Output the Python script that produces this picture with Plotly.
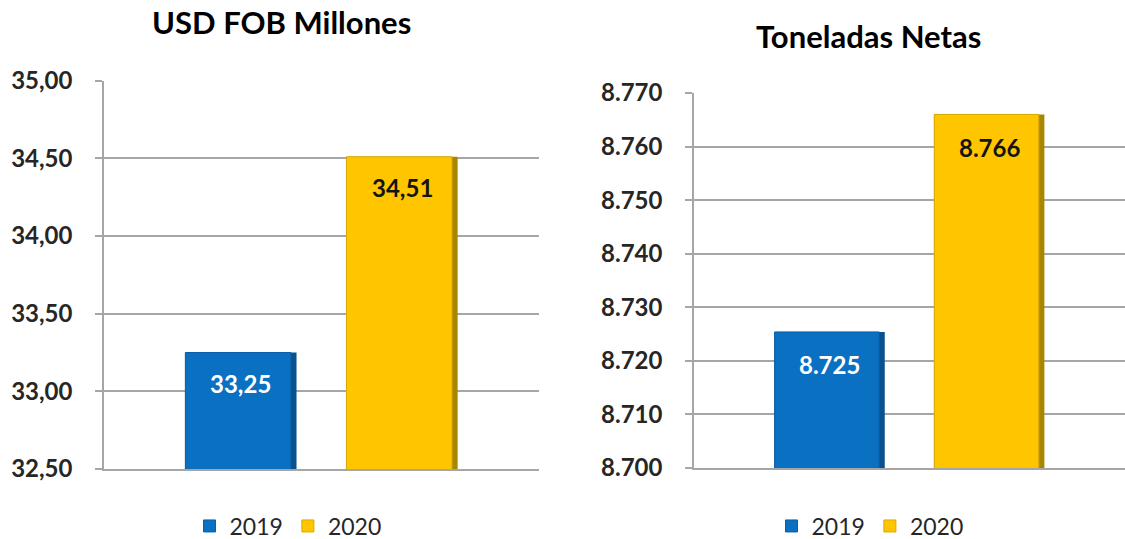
import plotly.graph_objects as go

# ---- data ----
series = ["2019", "2020"]
usd_values = [33.25, 34.51]          # USD FOB millones
ton_values = [8725.4, 8766.0]        # toneladas netas
usd_labels = ["33,25", "34,51"]
ton_labels = ["8.725", "8.766"]
usd_ticks = [32.5, 33.0, 33.5, 34.0, 34.5, 35.0]
ton_ticks = [8700, 8710, 8720, 8730, 8740, 8750, 8760, 8770]

fill_colors = ["#0A70C2", "#FFC600"]
shade_colors = ["#0A528F", "#A98600"]
edge_colors = ["#0B5FA4", "#D9A800"]
label_colors = ["#FFFFFF", "#141414"]

FONT = "Lato"
GRID = "#A6A6A6"
BAR_W = 0.69
FACE_W = 0.655

fig = go.Figure()
for xa, ya, lg, vals in (("x", "y", "legend", usd_values), ("x2", "y2", "legend2", ton_values)):
    for i, s in enumerate(series):
        # darker body showing as the bevel's right edge
        fig.add_trace(go.Bar(
            x=[s], y=[vals[i]], name=s, xaxis=xa, yaxis=ya, legend=lg, showlegend=False,
            width=BAR_W, offset=-BAR_W / 2,
            marker=dict(color=shade_colors[i], line=dict(width=0)), hoverinfo="skip"))
        # main face
        fig.add_trace(go.Bar(
            x=[s], y=[vals[i]], name=s, xaxis=xa, yaxis=ya, legend=lg, showlegend=True,
            width=FACE_W, offset=-BAR_W / 2,
            marker=dict(color=fill_colors[i], line=dict(color=edge_colors[i], width=1)),
            hoverinfo="skip"))

annotations = []
for i, s in enumerate(series):
    annotations.append(dict(x=i, y=usd_values[i], xref="x", yref="y", yshift=-31,
                            text=usd_labels[i], showarrow=False,
                            font=dict(family=FONT, size=24, weight="bold", color=label_colors[i])))
    annotations.append(dict(x=i, y=ton_values[i], xref="x2", yref="y2", yshift=-33,
                            text=ton_labels[i], showarrow=False,
                            font=dict(family=FONT, size=24, weight="bold", color=label_colors[i])))
annotations.append(dict(x=281 / 1125, y=1 - 22 / 539, xref="paper", yref="paper",
                        text="USD FOB Millones", showarrow=False, xanchor="center", yanchor="middle",
                        font=dict(family=FONT, size=31, weight="bold", color="#000000")))
annotations.append(dict(x=868 / 1125, y=1 - 36 / 539, xref="paper", yref="paper",
                        text="Toneladas Netas", showarrow=False, xanchor="center", yanchor="middle",
                        font=dict(family=FONT, size=31, weight="bold", color="#000000")))

xcommon = dict(type="category", range=[-0.85, 1.85], showticklabels=False, ticks="",
               showline=True, linecolor=GRID, linewidth=1.5, showgrid=False, zeroline=False,
               fixedrange=True, automargin=False)
ycommon = dict(showline=True, linecolor=GRID, linewidth=1.5, showgrid=True, gridcolor=GRID,
               gridwidth=1.5, zeroline=False, ticks="outside", ticklen=7, tickcolor=GRID,
               tickwidth=1.5, ticklabelstandoff=18, automargin=False,
               tickfont=dict(family=FONT, size=24, weight="bold", color="#262626"))

fig.update_layout(
    width=1125, height=539,
    margin=dict(l=0, r=0, t=0, b=0, autoexpand=False),
    paper_bgcolor="white", plot_bgcolor="white",
    separators=",.",
    barmode="overlay",
    showlegend=True,
    xaxis=dict(domain=[104 / 1125, 539 / 1125], anchor="y", **xcommon),
    yaxis=dict(domain=[1 - 469 / 539, 1 - 80.7 / 539], anchor="x", range=[32.5, 35],
               tickvals=usd_ticks, tickformat=",.2f", **ycommon),
    xaxis2=dict(domain=[694 / 1125, 1.0], anchor="y2", **xcommon),
    yaxis2=dict(domain=[1 - 468 / 539, 1 - 93 / 539], anchor="x2", range=[8700, 8770],
                tickvals=ton_ticks, tickformat=",d", **ycommon),
    legend=dict(orientation="h", x=288 / 1125, y=13 / 539, xanchor="center", yanchor="middle",
                font=dict(family=FONT, size=23, color="#262626"), bgcolor="rgba(0,0,0,0)",
                borderwidth=0, tracegroupgap=0),
    legend2=dict(orientation="h", x=870 / 1125, y=13 / 539, xanchor="center", yanchor="middle",
                 font=dict(family=FONT, size=23, color="#262626"), bgcolor="rgba(0,0,0,0)",
                 borderwidth=0, tracegroupgap=0),
    annotations=annotations,
)

fig.write_html("out.html")
